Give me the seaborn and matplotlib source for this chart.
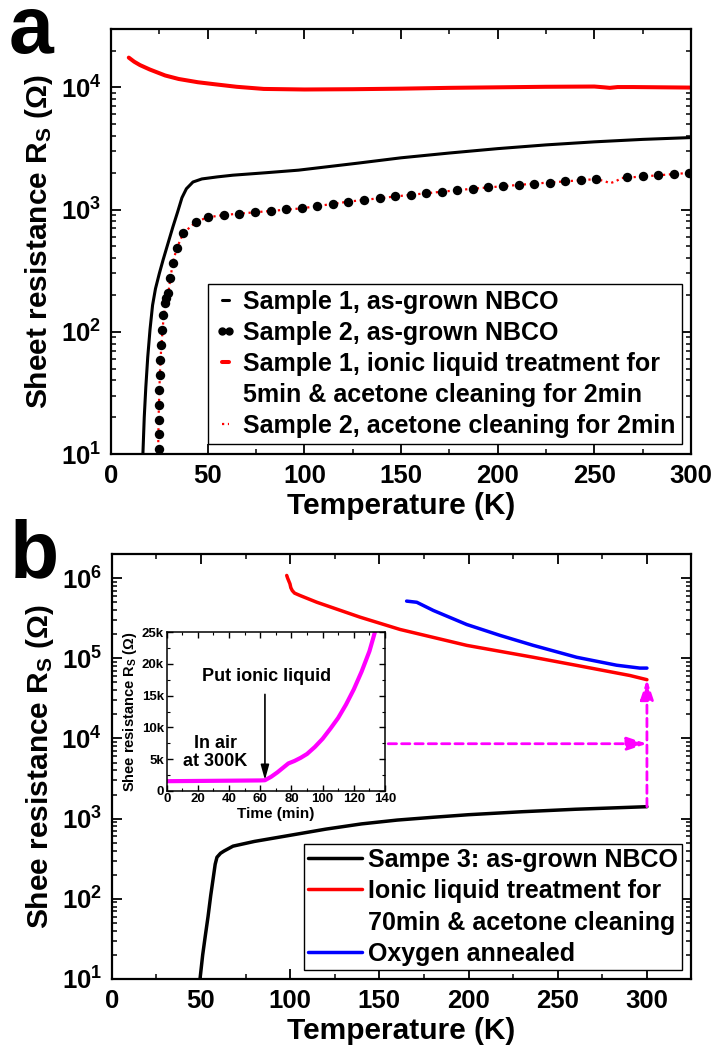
import numpy as np
import pandas as pd
import matplotlib
matplotlib.use("Agg")
import matplotlib.pyplot as plt
import seaborn as sns
from matplotlib.lines import Line2D
from matplotlib.ticker import MultipleLocator, LogLocator, NullFormatter, FuncFormatter

# ---------------- Panel a data ----------------
T_s1 = [16.5, 17.2, 18.0, 19.0, 20.2, 21.5, 23, 25, 27, 29.5, 32, 34.5, 36.7, 39, 42.4, 47,
        55, 63, 80, 97, 128, 150, 175, 200, 225, 250, 275, 300]
R_s1 = [10, 20, 35, 62, 105, 165, 225, 300, 390, 530, 720, 960, 1250, 1480, 1680, 1780,
        1850, 1910, 2000, 2100, 2400, 2650, 2900, 3150, 3380, 3580, 3750, 3880]

T_s2 = [24.6, 24.6, 24.7, 24.8, 24.9, 25.1, 25.4, 25.8, 26.3, 27.0, 27.8, 28.6,
        29.6, 30.5, 31.9, 34.0, 37.4, 44.0, 50.3, 58.5, 66.4, 74.5, 82.6, 90.5, 98.7,
        106.7, 114.7, 122.8, 131, 139, 147, 155, 163, 171, 179, 187, 195, 203, 211,
        219, 227, 235, 243, 251, 267, 275, 283, 291, 299]
R_s2 = [11, 14.6, 19, 25, 33.4, 44, 59, 78, 103, 137, 172, 190,
        206, 274, 363, 482, 640, 795, 865, 903, 921, 950, 980, 1005, 1023,
        1076, 1110, 1161, 1200, 1240, 1280, 1320, 1360, 1400, 1440, 1480, 1520, 1560, 1600,
        1630, 1660, 1700, 1730, 1770, 1830, 1870, 1910, 1950, 1990]

T_s1_il = [9.2, 12, 15, 20, 28, 35, 45, 53.5, 65, 79, 100, 125, 150, 175, 200, 225, 250,
           255, 258, 262, 270, 285, 300]
R_s1_il = [17500, 16200, 15200, 14000, 12500, 11700, 11000, 10600, 10100, 9700, 9600, 9650,
           9750, 9900, 10000, 10100, 10150, 10000, 9900, 10050, 10050, 10000, 9950]

T_s2_ac = [24.4, 24.5, 24.7, 25.0, 25.4, 26.0, 27.0, 28.6, 29.6, 31.9, 34.0, 37.4, 44.0,
           50.3, 58.5, 74.5, 98.7, 122.8, 155, 187, 219, 250, 255, 258, 261, 264, 280, 300]
R_s2_ac = [10, 15, 22, 33, 50, 75, 120, 190, 206, 363, 482, 640, 795,
           865, 903, 950, 1023, 1161, 1320, 1480, 1630, 1770, 1720, 1640, 1700, 1810, 1890, 2000]

labels_a = ["Sample 1, as-grown NBCO",
            "Sample 2, as-grown NBCO",
            "Sample 1, ionic liquid treatment for",
            "5min & acetone cleaning for 2min",
            "Sample 2, acetone cleaning for 2min"]

# ---------------- Panel b data ----------------
T_s3 = [49.5, 51, 52.5, 54, 55.5, 57, 58, 59, 61, 63, 68, 80, 100, 120, 140, 160, 180, 200,
        230, 260, 300]
R_s3 = [10, 20, 35, 60, 110, 188, 270, 330, 370, 395, 454, 520, 620, 740, 860, 960, 1040,
        1120, 1220, 1310, 1410]

T_il = [98.1, 98.6, 99.9, 100.4, 101.2, 102.5, 105.5, 115, 139.2, 161.6, 199, 236.3, 260.6,
        290.5, 300]
R_il = [1.08e6, 1.0e6, 8.5e5, 7.6e5, 7.0e5, 6.5e5, 6.08e5, 5.0e5, 3.26e5, 2.29e5, 1.45e5,
        1.03e5, 8.16e4, 6.1e4, 5.41e4]

T_ox = [165.3, 171, 180.3, 199, 217.7, 236.3, 260.6, 283, 296, 300]
R_ox = [5.17e5, 5.0e5, 3.95e5, 2.64e5, 1.93e5, 1.45e5, 1.03e5, 8.2e4, 7.55e4, 7.55e4]

labels_b = ["Sampe 3: as-grown NBCO",
            "Ionic liquid treatment for",
            "70min & acetone cleaning",
            "Oxygen annealed"]

# dashed guide arrows (start, end) in data units
arrow_h = ((155, 8600), (300, 8600))
arrow_v = ((300, 1410), (300, 5.41e4))

# ---------------- Inset data ----------------
t_min = [0, 10, 20, 30, 40, 50, 60, 63, 67, 71, 75, 78, 82, 86, 90, 95, 100, 105, 110,
         115, 120, 125, 130, 133.5]
R_t = [1500, 1520, 1540, 1560, 1580, 1600, 1620, 1650, 2200, 2900, 3700, 4300, 4700,
       5200, 5800, 6900, 8200, 9800, 11500, 13600, 16000, 18800, 22000, 25000]
inset_arrow = ((63, 15200), (63, 1700))

# ---------------- Style ----------------
sns.set_style("ticks")
plt.rcParams.update({
    'font.family': ['Liberation Sans', 'DejaVu Sans'],
    'font.weight': 'bold',
    'axes.labelweight': 'bold',
    'mathtext.fontset': 'custom',
    'mathtext.rm': 'Liberation Sans:bold',
    'mathtext.it': 'Liberation Sans:bold',
    'mathtext.bf': 'Liberation Sans:bold',
    'mathtext.sf': 'Liberation Sans:bold',
    'mathtext.default': 'rm',
    'axes.linewidth': 1.6,
    'axes.edgecolor': 'black',
    'xtick.color': 'black', 'ytick.color': 'black',
    'text.color': 'black', 'axes.labelcolor': 'black',
    'xtick.direction': 'in', 'ytick.direction': 'in',
    'xtick.top': True, 'ytick.right': True,
    'xtick.major.size': 7, 'ytick.major.size': 7,
    'xtick.minor.size': 3.5, 'ytick.minor.size': 3.5,
    'xtick.major.width': 1.3, 'ytick.major.width': 1.3,
    'xtick.minor.width': 1.1, 'ytick.minor.width': 1.1,
    'xtick.minor.visible': True, 'ytick.minor.visible': True,
})

W, H = 715, 1052
fig = plt.figure(figsize=(W / 100, H / 100), dpi=100)

def fx(px):
    return px / W

def fy(py):
    return 1 - py / H

TICK_FS = 18.5
LABEL_FS = 21.5
LEG_FS = 18

def style_main(ax, xmax, ylim):
    ax.set_yscale('log')
    ax.set_xlim(0, xmax)
    ax.set_ylim(*ylim)
    ax.xaxis.set_major_locator(MultipleLocator(50))
    ax.xaxis.set_minor_locator(MultipleLocator(25))
    ax.yaxis.set_major_locator(LogLocator(base=10, numticks=20))
    ax.yaxis.set_minor_locator(LogLocator(base=10, subs=np.arange(2, 10), numticks=20))
    ax.yaxis.set_minor_formatter(NullFormatter())
    ax.tick_params(axis='both', which='major', labelsize=TICK_FS, pad=7)
    ax.tick_params(axis='both', which='both', top=True, right=True)
    ax.set_xlabel("Temperature (K)", fontsize=LABEL_FS, fontweight='bold', labelpad=3)
    for s in ax.spines.values():
        s.set_visible(True)
        s.set_linewidth(1.6)

# ---------------- Panel a ----------------
axa = fig.add_axes([fx(111), fy(454), fx(691) - fx(111), fy(29) - fy(454)])
axa.set_yscale('log')
sns.lineplot(x=T_s1, y=R_s1, ax=axa, color='black', lw=2.2, sort=False, estimator=None)
sns.lineplot(x=T_s2_ac, y=R_s2_ac, ax=axa, color='red', lw=1.6, linestyle=':',
             sort=False, estimator=None)
sns.scatterplot(x=T_s2, y=R_s2, ax=axa, color='black', s=46, linewidth=0, zorder=3)
sns.lineplot(x=T_s1_il, y=R_s1_il, ax=axa, color='red', lw=2.9, sort=False, estimator=None)
style_main(axa, 300, (10, 3.0e4))
axa.set_ylabel("Sheet resistance R$_\\mathrm{S}$ (Ω)", fontsize=LABEL_FS,
               fontweight='bold', labelpad=4)

ha = [Line2D([], [], color='black', lw=2.2),
      Line2D([], [], color='black', marker='o', ls='', ms=5),
      Line2D([], [], color='red', lw=2.9),
      Line2D([], [], color='none', lw=0),
      Line2D([], [], color='red', lw=1.6, ls=':')]
lega = axa.legend(ha, labels_a, loc='lower right', bbox_to_anchor=(0.9845, 0.0235),
                  borderaxespad=0, handlelength=0.9, handletextpad=0.27,
                  labelspacing=0.28, borderpad=0.25, numpoints=2, fancybox=False,
                  framealpha=1, edgecolor='black', prop={'weight': 'bold', 'size': LEG_FS})
lega.get_frame().set_linewidth(1.0)

# ---------------- Panel b ----------------
axb = fig.add_axes([fx(111.7), fy(979), fx(691) - fx(111.7), fy(554) - fy(979)])
axb.set_yscale('log')
sns.lineplot(x=T_s3, y=R_s3, ax=axb, color='black', lw=2.5, sort=False, estimator=None)
sns.lineplot(x=T_il, y=R_il, ax=axb, color='red', lw=2.5, sort=False, estimator=None)
sns.lineplot(x=T_ox, y=R_ox, ax=axb, color='blue', lw=2.5, sort=False, estimator=None)
style_main(axb, 324.7, (10, 2.0e6))
axb.set_ylabel("Shee resistance R$_\\mathrm{S}$ (Ω)", fontsize=LABEL_FS,
               fontweight='bold', labelpad=4)

for (x0, y0), (x1, y1) in (arrow_h, arrow_v):
    axb.annotate('', xy=(x1, y1), xytext=(x0, y0),
                 arrowprops=dict(arrowstyle='-|>,head_length=1.2,head_width=0.4',
                                 mutation_scale=10, color='#FF00FF', lw=2.0,
                                 linestyle=(0, (3, 1.8)), shrinkA=0, shrinkB=0))

hb = [Line2D([], [], color='black', lw=2.5),
      Line2D([], [], color='red', lw=2.5),
      Line2D([], [], color='none', lw=0),
      Line2D([], [], color='blue', lw=2.5)]
legb = axb.legend(hb, labels_b, loc='lower right', bbox_to_anchor=(0.9845, 0.0212),
                  borderaxespad=0, handlelength=2.15, handletextpad=0.27,
                  labelspacing=0.3, borderpad=0.15, fancybox=False, framealpha=1,
                  edgecolor='black', prop={'weight': 'bold', 'size': LEG_FS})
legb.get_frame().set_linewidth(1.0)

# ---------------- Inset ----------------
axi = fig.add_axes([fx(166.7), fy(790.7), fx(385) - fx(166.7), fy(632.3) - fy(790.7)])
sns.lineplot(x=t_min, y=R_t, ax=axi, color='#FF00FF', lw=3.0, sort=False, estimator=None)
axi.set_xlim(0, 140)
axi.set_ylim(0, 25000)
axi.xaxis.set_major_locator(MultipleLocator(20))
axi.xaxis.set_minor_locator(MultipleLocator(10))
axi.yaxis.set_major_locator(MultipleLocator(5000))
axi.yaxis.set_minor_locator(MultipleLocator(2500))
axi.yaxis.set_major_formatter(FuncFormatter(lambda v, p: "0" if v == 0 else f"{int(v/1000)}k"))
axi.tick_params(axis='both', which='major', labelsize=9.5, length=4, width=1.0, pad=2)
axi.tick_params(axis='both', which='minor', length=2, width=0.8)
axi.tick_params(axis='both', which='both', top=True, right=True)
for s in axi.spines.values():
    s.set_visible(True)
    s.set_linewidth(1.1)
axi.set_xlabel("Time (min)", fontsize=11, fontweight='bold', labelpad=1)
axi.set_ylabel("Shee resistance R$_\\mathrm{S}$ (Ω)", fontsize=10.5, fontweight='bold',
               labelpad=2)
axi.annotate('', xy=inset_arrow[1], xytext=inset_arrow[0],
             arrowprops=dict(arrowstyle='-|>,head_length=0.9,head_width=0.25',
                             mutation_scale=10, color='black', lw=1.2,
                             shrinkA=0, shrinkB=0))
axi.text(64, 18000, "Put ionic liquid", fontsize=13, fontweight='bold',
         ha='center', va='center')
axi.text(31, 6060, "In air\nat 300K", fontsize=13, fontweight='bold',
         ha='center', va='center', linespacing=1.1)

# ---------------- Panel letters ----------------
fig.text(fx(9), fy(53), "a", fontsize=58, fontweight='bold', ha='left', va='baseline')
fig.text(fx(10), fy(577), "b", fontsize=58, fontweight='bold', ha='left', va='baseline')

fig.savefig("out.png", dpi=100)
